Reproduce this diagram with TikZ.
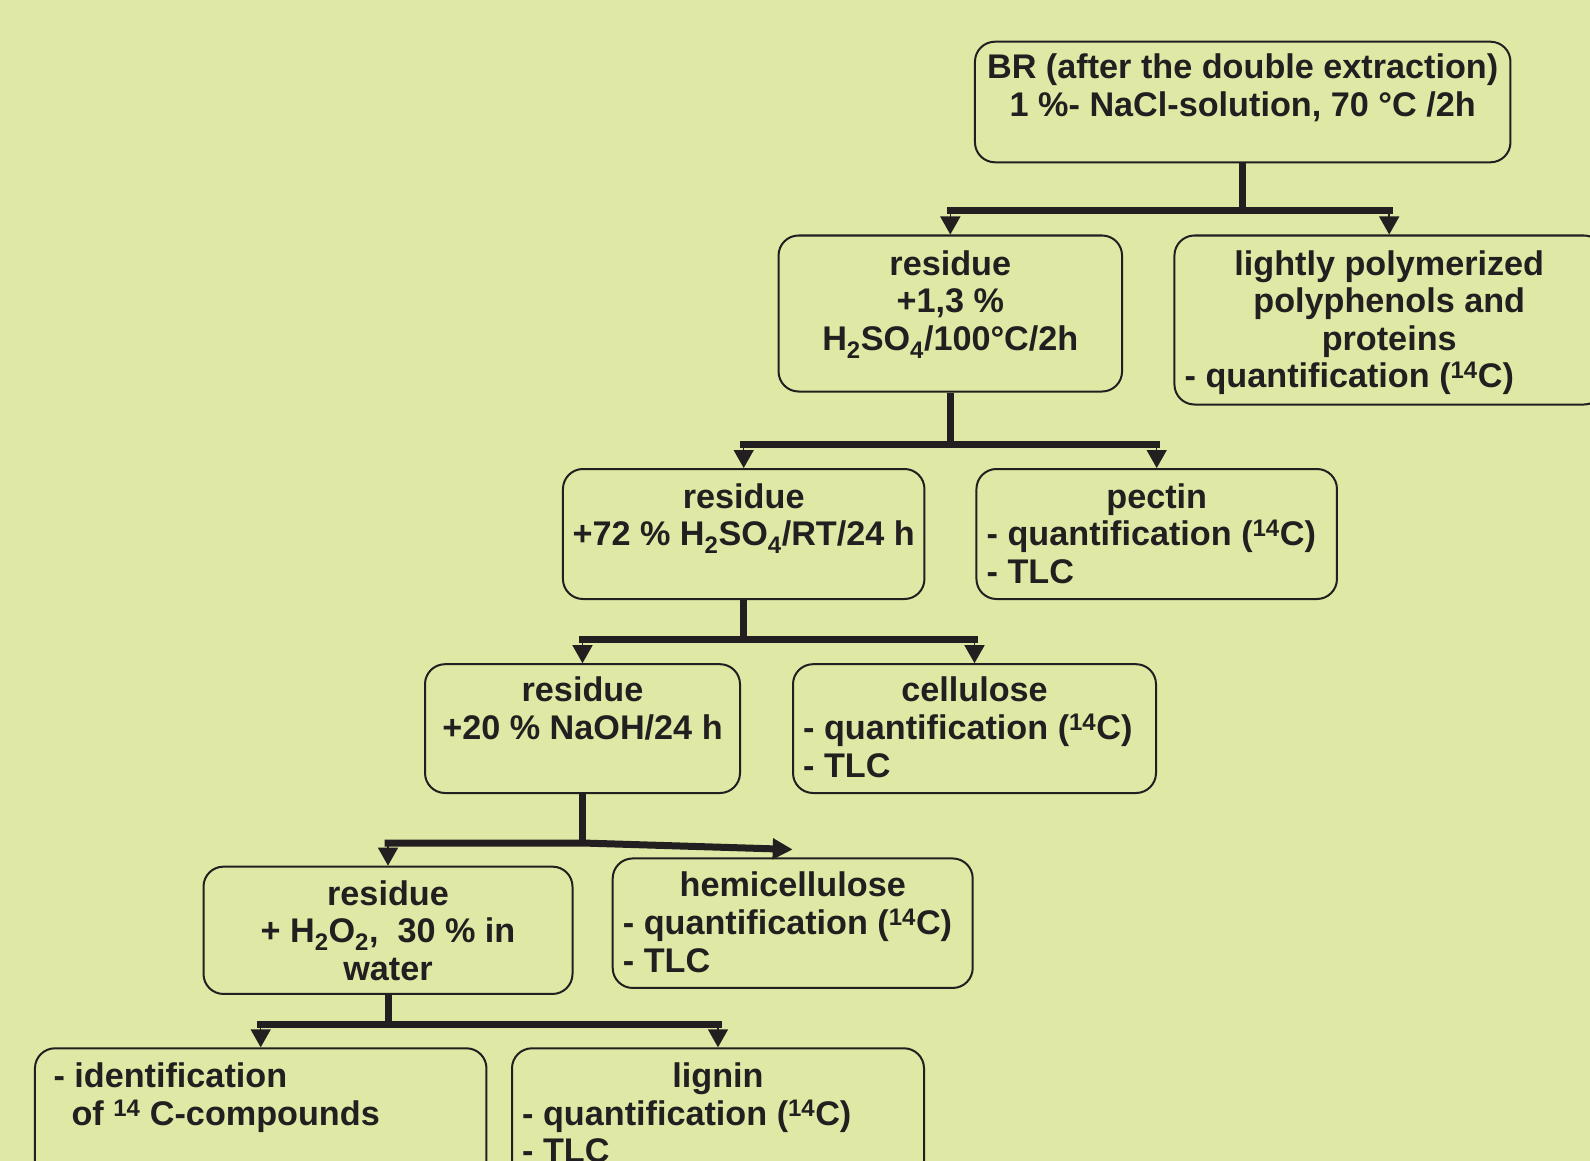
\documentclass[tikz,border=0pt]{standalone}
\usepackage{fontspec}
\setmainfont{Liberation Sans}
\usetikzlibrary{arrows.meta}
\definecolor{paper}{RGB}{223,232,164}
\definecolor{ink}{RGB}{35,31,32}

\begin{document}
\begin{tikzpicture}[x=1pt,y=-1pt,
    box/.style={draw=ink,line width=2pt,rounded corners=20pt,inner sep=0pt},
    txt/.style={inner sep=0pt,text=ink,align=center,anchor=base,font=\fontsize{34.2}{37.8}\selectfont\bfseries},
    lst/.style={txt,align=left,anchor=base west},
    stem/.style={draw=ink,line width=7pt},
    bar/.style={stem,line cap=rect},
    tip/.style={draw=ink,line width=1.5pt,-{Triangle[length=18pt,width=20pt]}}]
    \fill[paper](0,0)rectangle(1590,1161);
    \useasboundingbox(0,0)rectangle(1590,1161);

    % boxes
    \node[box,minimum width=535.5pt,minimum height=120.6pt](top)at(1242.7,102){};
    \node[box,minimum width=343.5pt,minimum height=156pt](res1)at(950.3,313.5){};
    \node[box,minimum width=429.5pt,minimum height=169pt](light)at(1389.2,320){};
    \node[box,minimum width=361.5pt,minimum height=130pt](res2)at(743.7,534){};
    \node[box,minimum width=360.5pt,minimum height=130pt](pectin)at(1156.7,534){};
    \node[box,minimum width=315pt,minimum height=128.8pt](res3)at(582.5,728.6){};
    \node[box,minimum width=363pt,minimum height=128.8pt](cell)at(974.5,728.6){};
    \node[box,minimum width=369pt,minimum height=127.3pt](res4)at(388,930.3){};
    \node[box,minimum width=360pt,minimum height=129.5pt](hemi)at(792.7,923.2){};
    \node[box,minimum width=451.5pt,minimum height=160pt](ident)at(260.7,1128.3){};
    \node[box,minimum width=412pt,minimum height=160pt](lignin)at(718,1128.3){};

    % texts (placed at the baseline of their last line)
    \node[txt](top-t)at(1242.7,116.8){BR (after the double extraction)\\1 \%- NaCl-solution, 70 °C /2h};
    \node[txt](res1-t)at(950.3,350.6){residue\\+1,3 \%\\H\textsubscript{2}SO\textsubscript{4}/100°C/2h};
    \node[txt](light-t)at(1389.2,350.6){lightly polymerized\\polyphenols and\\proteins};
    \node[lst](light-l)at(1184.5,387.5){- quantification (\textsuperscript{14}C)};
    \node[txt](res2-t)at(743.7,545.8){residue\\+72 \% H\textsubscript{2}SO\textsubscript{4}/RT/24 h};
    \node[txt](pectin-t)at(1156.7,508){pectin};
    \node[lst](pectin-l)at(986.5,583.6){- quantification (\textsuperscript{14}C)\\- TLC};
    \node[txt](res3-t)at(582.5,739.3){residue\\+20 \% NaOH/24 h};
    \node[txt](cell-t)at(974.5,701.5){cellulose};
    \node[lst](cell-l)at(803,777.1){- quantification (\textsuperscript{14}C)\\- TLC};
    \node[txt](res4-t)at(388,980.6){residue\\+ H\textsubscript{2}O\textsubscript{2},\ \ 30 \% in\\water};
    \node[txt](hemi-t)at(792.7,896.7){hemicellulose};
    \node[lst](hemi-l)at(622.7,972.3){- quantification (\textsuperscript{14}C)\\- TLC};
    \node[lst](ident-l)at(53.3,1125.1){- identification\\\hspace*{18pt}of \textsuperscript{14} C-compounds};
    \node[txt](lignin-t)at(718,1087.3){lignin};
    \node[lst](lignin-l)at(522,1162.9){- quantification (\textsuperscript{14}C)\\- TLC};

    % connectors
    \coordinate(j1)at(1242.7,211);
    \draw[stem](top.south)--(j1);
    \draw[bar](res1.north|-j1)--(light.north|-j1);
    \draw[tip](res1.north|-j1)--(res1.north);
    \draw[tip](light.north|-j1)--(light.north);

    \coordinate(j2)at(950.3,444);
    \draw[stem](res1.south)--(j2);
    \draw[bar](res2.north|-j2)--(pectin.north|-j2);
    \draw[tip](res2.north|-j2)--(res2.north);
    \draw[tip](pectin.north|-j2)--(pectin.north);

    \coordinate(j3)at(743.7,639);
    \draw[stem](res2.south)--(j3);
    \draw[bar](res3.north|-j3)--(cell.north|-j3);
    \draw[tip](res3.north|-j3)--(res3.north);
    \draw[tip](cell.north|-j3)--(cell.north);

    \coordinate(j4)at(582.5,843);
    \draw[stem](res3.south)--(j4);
    \draw[bar,-{Triangle[length=20pt,width=20pt]}](res4.north|-j4)--(j4)--([yshift=8pt]hemi.north);
    \draw[tip](res4.north|-j4)--(res4.north);

    \coordinate(j5)at(388,1024);
    \draw[stem](res4.south)--(j5);
    \draw[bar](ident.north|-j5)--(lignin.north|-j5);
    \draw[tip](ident.north|-j5)--(ident.north);
    \draw[tip](lignin.north|-j5)--(lignin.north);
\end{tikzpicture}
\end{document}
